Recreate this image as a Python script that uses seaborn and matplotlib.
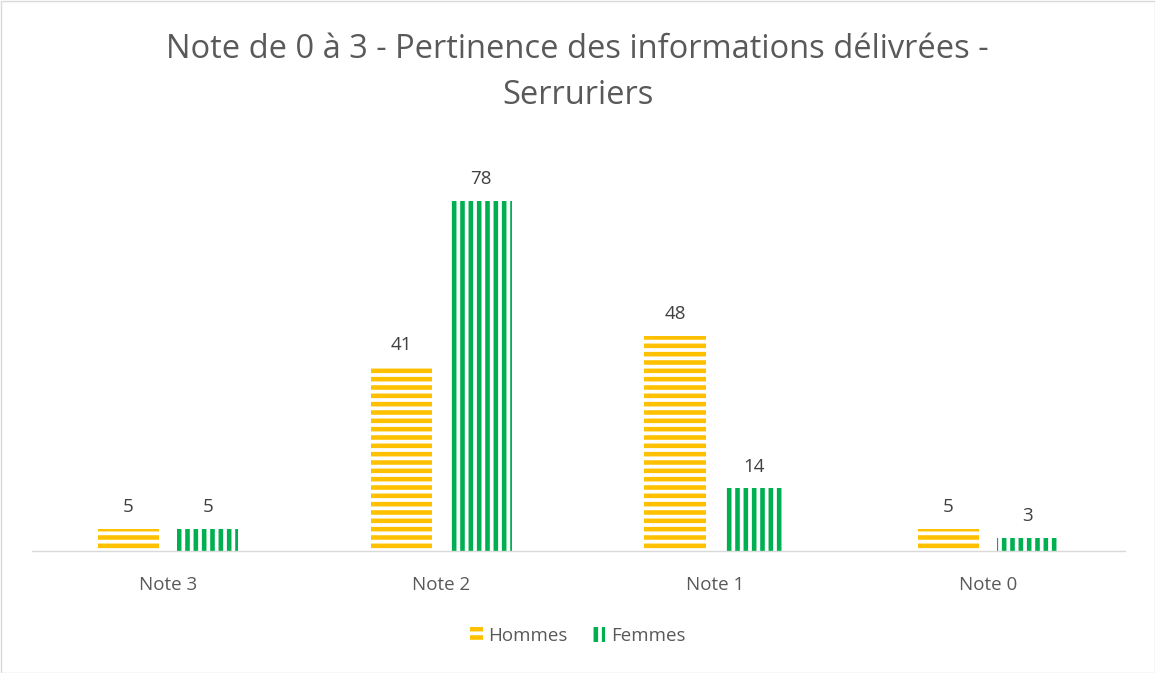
import pandas as pd
import seaborn as sns
import matplotlib.pyplot as plt

notes = ["Note 3", "Note 2", "Note 1", "Note 0"]
hommes = [5, 41, 48, 5]
femmes = [5, 78, 14, 3]
series = ["Hommes", "Femmes"]
colors = ["#FFC000", "#00B050"]
hatches = ["--", "||"]

df = pd.DataFrame({
    "note": notes * 2,
    "valeur": hommes + femmes,
    "sexe": [series[0]] * len(notes) + [series[1]] * len(notes),
})

sns.set_theme(style="white")
plt.rcParams["font.family"] = ["Open Sans", "DejaVu Sans"]
plt.rcParams["hatch.linewidth"] = 3.3

fig = plt.figure(figsize=(11.55, 6.73), dpi=100)
ax = fig.add_axes([31.5 / 1155, 122 / 673, 1093 / 1155, 404 / 673])

sns.barplot(data=df, x="note", y="valeur", hue="sexe", palette=colors,
            width=0.58, gap=0.23, ax=ax, legend=False)

for cont, col, h in zip(ax.containers, colors, hatches):
    for p in cont:
        p.set_facecolor("white")
        p.set_edgecolor(col)
        p.set_linewidth(0)
        p.set_hatch(h)
    ax.bar_label(cont, padding=9, fontsize=13.5, color="#404040")

ax.set_xlim(-0.5, 3.5)
ax.set_ylim(0, 90)
ax.set_xlabel("")
ax.set_ylabel("")
ax.set_yticks([])
ax.tick_params(axis="x", length=0, pad=18, labelsize=13.5, labelcolor="#595959")
for s in ["left", "right", "top"]:
    ax.spines[s].set_visible(False)
ax.spines["bottom"].set_color("#d9d9d9")
ax.spines["bottom"].set_linewidth(1)

fig.suptitle("Note de 0 à 3 - Pertinence des informations délivrées -\nSerruriers",
             y=1 - 33 / 673, fontsize=23.5, color="#595959", linespacing=1.5)

leg = fig.legend(ax.containers, series, loc="center", bbox_to_anchor=(0.5, 1 - 636 / 673),
                 ncol=2, frameon=False, fontsize=13.5, handlelength=0.7, handleheight=0.8,
                 handletextpad=0.3, columnspacing=1.3)
for t in leg.get_texts():
    t.set_color("#595959")

fig.patches.append(plt.Rectangle((0.5 / 1155, 0.5 / 673), 1 - 1 / 1155, 1 - 1 / 673,
                                 transform=fig.transFigure, fill=False,
                                 edgecolor="#d9d9d9", linewidth=1))

fig.savefig("out.png", dpi=100)
